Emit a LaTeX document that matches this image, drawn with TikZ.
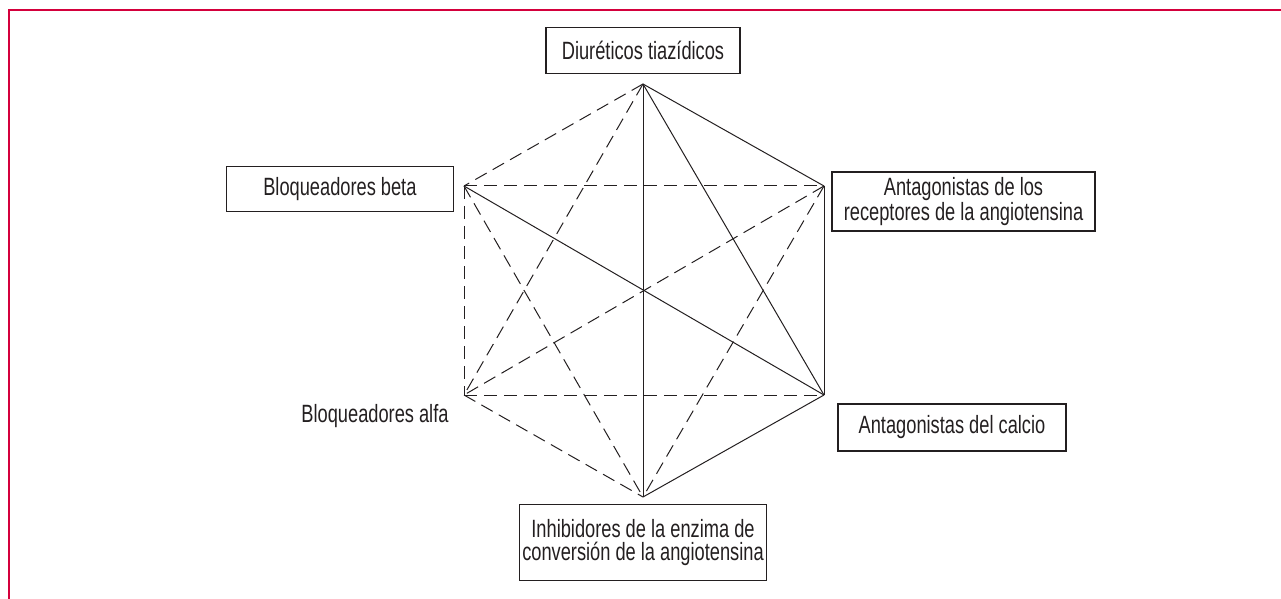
\documentclass[tikz,border=0pt]{standalone}
\usepackage{fontspec}
\setmainfont{Liberation Sans}[FakeStretch=0.73]
\usepackage{tikz}
\usetikzlibrary{positioning}
\definecolor{myframe}{RGB}{212,0,60}
\definecolor{mygray}{RGB}{35,31,32}
\tikzset{font=\fontsize{12.5}{11.2}\selectfont}

\begin{document}
\begin{tikzpicture}[
x=0.5pt, y=-0.5pt,
mybox/.style 2 args={
  draw=mygray,
  line width=0.6pt,
  text=mygray,
  align=center,
  inner sep=0pt,
  minimum width=#1,
  minimum height=#2
  },
solidline/.style={
  draw=mygray,
  line width=0.5pt
  },
dashline/.style={
  solidline,
  dash pattern=on 6.5pt off 3.5pt
  }
]
\useasboundingbox (0,0) rectangle (1281,599);

%the frame
\draw[myframe,line width=1pt] (1281,10.5) -- (8.5,10.5) -- (8.5,599);

%the corners of the hexagon
\coordinate (cDiu) at (643,84);
\coordinate (cBeta) at (464,186);
\coordinate (cAra) at (824,186);
\coordinate (cAlfa) at (464,395);
\coordinate (cCalcio) at (824,395);
\coordinate (cIeca) at (643,497);

%the dashed lines
\foreach \a/\b in {cDiu/cBeta, cDiu/cAlfa, cBeta/cAra, cBeta/cAlfa, cBeta/cIeca,
  cAra/cAlfa, cAra/cIeca, cAlfa/cCalcio, cAlfa/cIeca}
  \draw[dashline] (\a) -- (\b);

%the solid lines
\foreach \a/\b in {cDiu/cAra, cDiu/cCalcio, cDiu/cIeca, cBeta/cCalcio,
  cAra/cCalcio, cCalcio/cIeca}
  \draw[solidline] (\a) -- (\b);

%the labels
\node[mybox={97pt}{23pt}, above=5pt of cDiu] (diu) {Diuréticos tiazídicos};
\node[mybox={113.5pt}{22.5pt}, left=5pt of cBeta, yshift=-1.5pt] (beta) {Bloqueadores beta};
\node[mybox={131.5pt}{29.5pt}] (ara) at (963.5,201.5)
  {Antagonistas de los\\receptores de la angiotensina};
\node[mybox={114pt}{23.5pt}] (calcio) at (952,427.5) {Antagonistas del calcio};
\node[mybox={123.5pt}{38pt}, below=3.5pt of cIeca] (ieca)
  {Inhibidores de la enzima de\\conversión de la angiotensina};
\node[text=mygray] (alfa) at (375,416) {Bloqueadores alfa};

\end{tikzpicture}
\end{document}
